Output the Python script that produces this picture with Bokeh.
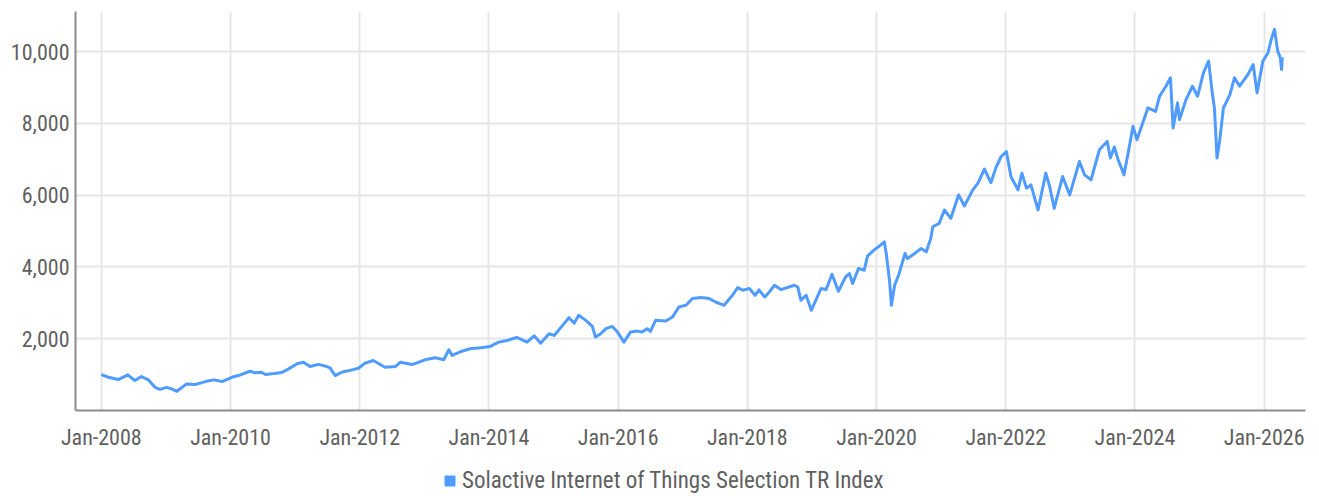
from bokeh.plotting import figure
from bokeh.layouts import column
from bokeh.models import (Range1d, FixedTicker, NumeralTickFormatter, Legend, LegendItem,
                          ColumnDataSource)
from bokeh.embed import file_html
from bokeh.resources import INLINE

# ---- data (decimal year, index level) ----
dates = [
    2008.00, 2008.11, 2008.26, 2008.41, 2008.52, 2008.62, 2008.73, 2008.83, 2008.91, 2009.01,
    2009.09, 2009.17, 2009.32, 2009.45, 2009.61, 2009.74, 2009.87, 2010.02, 2010.12, 2010.30,
    2010.38, 2010.48, 2010.54, 2010.64, 2010.79, 2010.90, 2011.03, 2011.13, 2011.23, 2011.36,
    2011.49, 2011.54, 2011.62, 2011.72, 2011.88, 2011.98, 2012.08, 2012.21, 2012.39, 2012.55,
    2012.63, 2012.81, 2013.01, 2013.17, 2013.30, 2013.38, 2013.43, 2013.58, 2013.71, 2013.87,
    2014.02, 2014.15, 2014.28, 2014.43, 2014.59, 2014.70, 2014.80, 2014.93, 2015.01, 2015.14,
    2015.24, 2015.32, 2015.39, 2015.50, 2015.60, 2015.65, 2015.73, 2015.81, 2015.91, 2015.99,
    2016.09, 2016.19, 2016.30, 2016.37, 2016.45, 2016.50, 2016.58, 2016.74, 2016.84, 2016.94,
    2017.05, 2017.15, 2017.28, 2017.41, 2017.51, 2017.64, 2017.77, 2017.85, 2017.93, 2018.03,
    2018.12, 2018.18, 2018.27, 2018.34, 2018.42, 2018.52, 2018.73, 2018.78, 2018.83, 2018.91,
    2018.99, 2019.14, 2019.22, 2019.31, 2019.41, 2019.52, 2019.58, 2019.63, 2019.72, 2019.81,
    2019.86, 2019.96, 2020.03, 2020.12, 2020.15, 2020.20, 2020.23, 2020.28, 2020.35, 2020.44,
    2020.48, 2020.59, 2020.69, 2020.77, 2020.84, 2020.87, 2020.97, 2021.05, 2021.15, 2021.27,
    2021.36, 2021.49, 2021.57, 2021.67, 2021.77, 2021.85, 2021.93, 2022.01, 2022.08, 2022.19,
    2022.25, 2022.32, 2022.39, 2022.50, 2022.62, 2022.68, 2022.75, 2022.88, 2022.99, 2023.14,
    2023.22, 2023.32, 2023.45, 2023.57, 2023.62, 2023.68, 2023.74, 2023.83, 2023.89, 2023.97,
    2024.03, 2024.12, 2024.20, 2024.32, 2024.38, 2024.48, 2024.55, 2024.59, 2024.66, 2024.69,
    2024.79, 2024.89, 2024.97, 2025.06, 2025.14, 2025.20, 2025.23, 2025.27, 2025.31, 2025.37,
    2025.47, 2025.54, 2025.62, 2025.75, 2025.83, 2025.89, 2025.98, 2026.06, 2026.11, 2026.16,
    2026.21, 2026.25, 2026.27, 2026.28,
]
values = [
    1000, 926, 862, 993, 834, 946, 853, 646, 590, 646,
    602, 535, 741, 722, 806, 853, 806, 926, 974, 1094,
    1049, 1066, 1002, 1021, 1057, 1161, 1301, 1345, 1225, 1285,
    1225, 1189, 974, 1066, 1133, 1178, 1318, 1393, 1206, 1225,
    1345, 1281, 1413, 1469, 1413, 1692, 1533, 1653, 1720, 1748,
    1785, 1905, 1952, 2035, 1905, 2080, 1877, 2140, 2092, 2372,
    2587, 2436, 2652, 2512, 2344, 2045, 2140, 2280, 2344, 2185,
    1905, 2185, 2213, 2185, 2280, 2204, 2512, 2492, 2604, 2884,
    2931, 3119, 3147, 3119, 3024, 2931, 3211, 3426, 3351, 3398,
    3211, 3360, 3164, 3303, 3491, 3370, 3491, 3443, 3071, 3211,
    2792, 3398, 3370, 3798, 3323, 3723, 3818, 3538, 3958, 3910,
    4302, 4470, 4562, 4702, 4377, 3631, 2931, 3491, 3818, 4377,
    4238, 4377, 4517, 4422, 4797, 5121, 5216, 5588, 5356, 6008,
    5700, 6148, 6335, 6727, 6350, 6780, 7079, 7219, 6520, 6148,
    6615, 6196, 6288, 5588, 6615, 6240, 5636, 6520, 6008, 6940,
    6568, 6428, 7267, 7499, 7035, 7343, 6987, 6568, 7127, 7918,
    7547, 8013, 8433, 8338, 8758, 9037, 9272, 7873, 8573, 8106,
    8665, 9037, 8758, 9412, 9736, 8805, 8433, 7035, 7499, 8433,
    8805, 9272, 9037, 9365, 9644, 8852, 9736, 9971, 10343, 10623,
    10016, 9830, 9504, 9848,
]
series_name = "Solactive Internet of Things Selection TR Index"
x_ticks = [2008, 2010, 2012, 2014, 2016, 2018, 2020, 2022, 2024, 2026]
x_tick_labels = ["Jan-2008", "Jan-2010", "Jan-2012", "Jan-2014", "Jan-2016",
                 "Jan-2018", "Jan-2020", "Jan-2022", "Jan-2024", "Jan-2026"]
y_ticks = [2000, 4000, 6000, 8000, 10000]

FONT = "'Roboto Condensed', 'Liberation Sans Narrow', 'DejaVu Sans Condensed', sans-serif"
TEXT_COLOR = "#5f5f5f"
LINE_COLOR = "#4f9bff"

main = figure(width=1311, height=464, output_backend="svg", toolbar_location=None,
              x_range=Range1d(2007.60, 2026.64), y_range=Range1d(0, 11120),
              min_border_left=75, min_border_right=6, min_border_top=11, min_border_bottom=54)
main.outline_line_color = None
main.background_fill_color = "white"

src = ColumnDataSource(dict(x=dates, y=values))
main.line("x", "y", source=src, line_color=LINE_COLOR, line_width=3, line_join="round")

# axes
for ax in (main.xaxis[0], main.yaxis[0]):
    ax.axis_line_color = "#8c8c8c"
    ax.axis_line_width = 2
    ax.major_tick_line_color = None
    ax.minor_tick_line_color = None
    ax.major_tick_out = 0
    ax.major_tick_in = 0
    ax.minor_tick_out = 0
    ax.minor_tick_in = 0
    ax.major_label_text_font = FONT
    ax.major_label_text_color = TEXT_COLOR
    ax.major_label_text_font_size = "22px"

main.xaxis.ticker = FixedTicker(ticks=x_ticks)
main.xaxis.major_label_overrides = {t: l for t, l in zip(x_ticks, x_tick_labels)}
main.xaxis.major_label_standoff = 14

main.yaxis.ticker = FixedTicker(ticks=y_ticks)
main.yaxis.formatter = NumeralTickFormatter(format="0,0")
main.yaxis.major_label_standoff = 6

main.xgrid.ticker = FixedTicker(ticks=x_ticks)
main.ygrid.ticker = FixedTicker(ticks=y_ticks)
for g in (main.xgrid[0], main.ygrid[0]):
    g.grid_line_color = "#e6e6e6"
    g.grid_line_width = 2

# legend strip below the chart
leg = figure(width=1311, height=30, output_backend="svg", toolbar_location=None,
             x_axis_type=None, y_axis_type=None, x_range=Range1d(0, 1), y_range=Range1d(0, 1),
             min_border=0, min_border_left=0, min_border_right=0,
             min_border_top=0, min_border_bottom=0)
leg.outline_line_color = None
leg.xgrid.visible = False
leg.ygrid.visible = False
sq = leg.scatter(x=[float("nan")], y=[float("nan")], marker="square", size=10,
                 fill_color=LINE_COLOR, line_color=LINE_COLOR)
legend = Legend(items=[LegendItem(label=series_name, renderers=[sq])],
                orientation="horizontal", location=(362, 0),
                label_text_font=FONT, label_text_font_size="23px",
                label_text_color=TEXT_COLOR, glyph_width=25, glyph_height=25,
                label_standoff=0, border_line_color=None, background_fill_alpha=0,
                padding=2, margin=0, label_height=20)
leg.add_layout(legend, "center")

p = column(main, leg, spacing=0)

open("out.html", "w").write(file_html(p, INLINE))
